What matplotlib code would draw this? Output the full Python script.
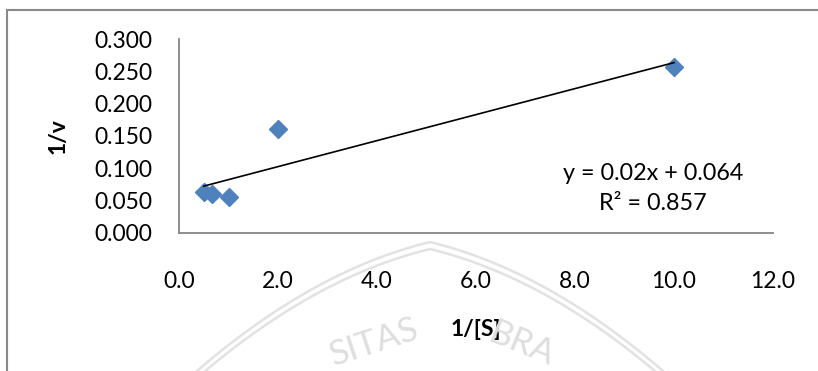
import numpy as np
import matplotlib
matplotlib.use("Agg")
import matplotlib.pyplot as plt
from matplotlib.patches import Rectangle

# Lineweaver-Burk data
inv_s = [0.5, 0.667, 1.0, 2.0, 10.0]
inv_v = [0.064, 0.061, 0.055, 0.161, 0.256]
eq_text = "y = 0.02x + 0.064"
r2_text = "R\u00b2 = 0.857"
x_ticks = [0, 2, 4, 6, 8, 10, 12]
y_ticks = [0.0, 0.05, 0.10, 0.15, 0.20, 0.25, 0.30]

plt.rcParams["font.family"] = ["Lato", "DejaVu Sans"]

W, H = 818, 371
fig = plt.figure(figsize=(W / 100, H / 100), dpi=100)
fig.patch.set_facecolor("white")

def fx(px):
    return px / W

def fy(py):
    return 1 - py / H

# outer chart frame (right and bottom edges fall outside the picture)
fig.add_artist(Rectangle((fx(7), -0.05), 1.2, fy(10) + 0.05,
                         transform=fig.transFigure, fill=False,
                         edgecolor="#8a8a8a", lw=1.5))

# faint watermark in the background
wm = "#e2e2e2"
dx = np.linspace(-240, 240, 200)
for off in (0, 7):
    ya = 242 + off + 0.2435 * np.abs(dx) + 0.00133 * dx ** 2
    fig.add_artist(plt.Line2D(fx(430 + dx), fy(ya), transform=fig.transFigure,
                              color=wm, lw=1.8, zorder=0))
fig.text(fx(374), fy(342), "SITAS", color="#dedede", fontsize=25, rotation=18,
         ha="center", va="center", zorder=0)
fig.text(fx(522), fy(344), "BRA", color="#dedede", fontsize=25, rotation=-22,
         ha="center", va="center", zorder=0)

ax = fig.add_axes([fx(179), fy(233), fx(773) - fx(179), fy(39) - fy(233)])
ax.set_facecolor("none")

ax.plot(inv_s, inv_v, linestyle="none", marker="D", ms=9.2,
        color="#4f81bd", markeredgecolor="#4f81bd", zorder=3)

slope, icpt = np.polyfit(inv_s, inv_v, 1)
xs = np.array([min(inv_s), max(inv_s)])
ax.plot(xs, slope * xs + icpt, color="black", lw=1.2, zorder=4)

ax.text(9.58, 0.0925, eq_text, fontsize=16.8, ha="center", va="center")
ax.text(9.58, 0.0455, r2_text, fontsize=16.8, ha="center", va="center")

ax.set_xlim(0, 12)
ax.set_ylim(0, 0.3)
ax.set_xticks(x_ticks)
ax.set_xticklabels([f"{v:.1f}" for v in x_ticks])
ax.set_yticks(y_ticks)
ax.set_yticklabels([f"{v:.3f}" for v in y_ticks])
ax.tick_params(length=0, labelsize=16.5)
ax.tick_params(axis="y", pad=19)
ax.tick_params(axis="x", pad=27)

for s in ["top", "right"]:
    ax.spines[s].set_visible(False)
for s in ["left", "bottom"]:
    ax.spines[s].set_color("#868686")
    ax.spines[s].set_linewidth(1.3)

ax.set_xlabel("1/[S]", fontsize=16.5, fontweight="bold", labelpad=20)
ax.set_ylabel("1/v", fontsize=16.5, fontweight="bold", labelpad=19)

fig.savefig("out.png", dpi=100, facecolor="white")
